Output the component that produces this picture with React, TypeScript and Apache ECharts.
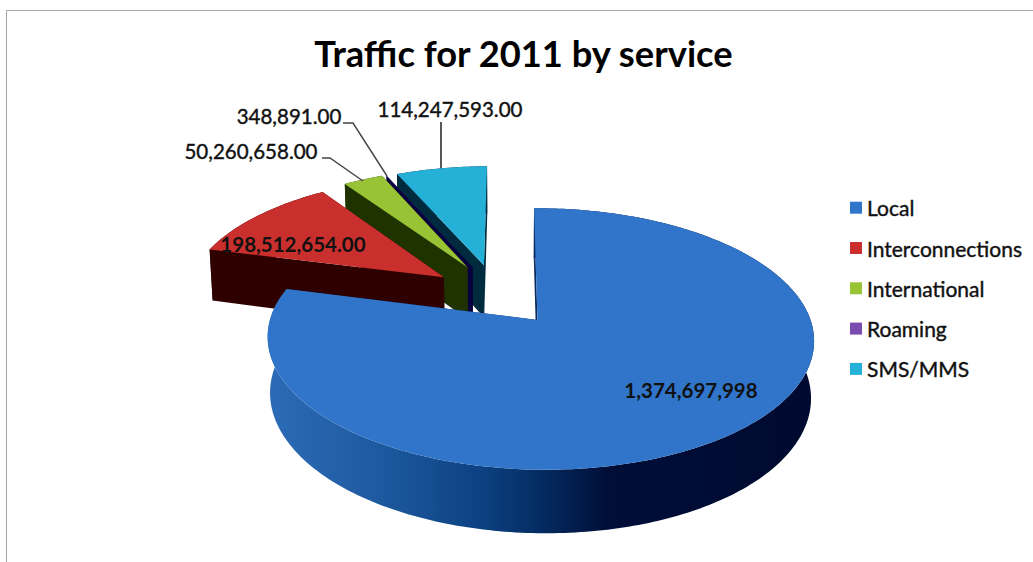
import React, { useEffect, useRef } from "react";
import * as echarts from "echarts";

// Traffic by service, in the order of the pie, clockwise from twelve o'clock.
const categories = ["Local", "Interconnections", "International", "Roaming", "SMS/MMS"];
const trafficValues = [1374697998, 198512654, 50260658, 348891, 114247593];
const valueLabels = ["1,374,697,998", "198,512,654.00", "50,260,658.00", "348,891.00", "114,247,593.00"];

const topColors = ["#3075C9", "#C92F2C", "#98C335", "#7A4CB0", "#25B0D8"];
const wallColors = ["#0A2A60", "#2E0000", "#1F3300", "#08003C", "#002A3E"];

// Slice displacement on the pie's plane, in units of the radius.
const explodeOffsets: number[][] = [[0, 0], [-0.36, -0.353], [-0.27, -0.44], [-0.25, -0.44], [-0.205, -0.458]];

// Label centres, and the bent leader that joins a label to its slice.
const labelCentres: number[][] = [[691, 390], [293, 244], [251, 151], [289, 116], [450, 109]];
const leaderPaths: (number[][] | null)[] = [
  null,
  null,
  [[322, 158], [330, 158], [363, 181]],
  [[343, 123], [353, 123], [387, 176]],
  [[441, 122], [441, 168]],
];

// Perspective of the tilted disc: lines of constant u converge on VANISH_X.
const VANISH_X = 510;
const APEX_DX = 27.5;
const APEX_Y = 320;
const RADIUS_X = 270;
const RADIUS_Y = 128;
const TILT_V = 0.145;
const TILT_U = 0.01;
const DEPTH = 55.6;
const FLOOR_SCALE = 0.99;
const LABEL_FONT = "Lato";

const total = trafficValues.reduce((a, b) => a + b, 0);

function project(u: number, v: number, floor: boolean): number[] {
  const w = 1 - TILT_V * v - TILT_U * u;
  const k = floor ? FLOOR_SCALE : 1;
  return [
    VANISH_X + ((APEX_DX + RADIUS_X * u) * k) / w,
    APEX_Y + (RADIUS_Y * v * k) / w + (floor ? DEPTH / w : 0),
  ];
}

function sliceAngles(index: number): number[] {
  let before = 0;
  for (let i = 0; i < index; i++) before += trafficValues[i];
  const start = (before / total) * 2 * Math.PI;
  return [start, start + (trafficValues[index] / total) * 2 * Math.PI];
}

function wallFill(index: number) {
  if (index !== 0) return wallColors[index];
  return new echarts.graphic.LinearGradient(0, 0, 1, 0, [
    { offset: 0, color: "#2C6BB6" },
    { offset: 0.2, color: "#1E5AA0" },
    { offset: 0.38, color: "#0D4384" },
    { offset: 0.5, color: "#042C62" },
    { offset: 0.62, color: "#000E38" },
    { offset: 1, color: "#000A30" },
  ]);
}

function renderSlice(index: number) {
  const [start, end] = sliceAngles(index);
  const [du, dv] = explodeOffsets[index];
  const rim = (a: number, floor: boolean) => project(du + Math.sin(a), dv - Math.cos(a), floor);
  const apexTop = project(du, dv, false);
  const apexFloor = project(du, dv, true);

  const steps = Math.max(2, Math.ceil(((end - start) * 180) / Math.PI));
  const topArc: number[][] = [];
  const floorArc: number[][] = [];
  for (let i = 0; i <= steps; i++) {
    const a = start + ((end - start) * i) / steps;
    topArc.push(rim(a, false));
    floorArc.push(rim(a, true));
  }

  const children: any[] = [
    {
      type: "polygon",
      shape: { points: [...topArc, ...[...floorArc].reverse()] },
      style: { fill: wallFill(index) },
    },
    {
      type: "polygon",
      shape: { points: [apexTop, topArc[0], floorArc[0], apexFloor] },
      style: { fill: wallColors[index] },
    },
    {
      type: "polygon",
      shape: { points: [apexTop, topArc[steps], floorArc[steps], apexFloor] },
      style: { fill: wallColors[index] },
    },
    {
      type: "polygon",
      shape: { points: [apexTop, ...topArc] },
      style: { fill: topColors[index] },
    },
  ];

  const leader = leaderPaths[index];
  if (leader) {
    children.push({
      type: "polyline",
      shape: { points: leader },
      style: { fill: "none", stroke: index === 4 ? "#111111" : "#444444", lineWidth: 1.4 },
      z2: 90,
    });
  }
  children.push({
    type: "text",
    z2: 100,
    style: {
      text: valueLabels[index],
      x: labelCentres[index][0],
      y: labelCentres[index][1],
      align: "center",
      verticalAlign: "middle",
      fill: "#111111",
      stroke: "#111111",
      lineWidth: index < 2 ? 0 : 0.4,
      font: `${index < 2 ? "bold " : ""}20.5px ${LABEL_FONT}`,
    },
  });
  return { type: "group", children };
}

// Back-to-front painting order: the large slice overlaps the exploded ones.
const paintOrder = [4, 3, 2, 1, 0];

export default function App() {
  const ref = useRef<HTMLDivElement>(null);
  useEffect(() => {
    document.body.style.margin = "0";
    const chart = echarts.init(ref.current!, undefined, { renderer: "svg" });
    chart.setOption({
      animation: false,
      backgroundColor: "#ffffff",
      title: {
        text: "Traffic for 2011 by service",
        left: 518.5,
        top: 30,
        textAlign: "center",
        textStyle: { fontFamily: LABEL_FONT, fontWeight: "bold", fontSize: 36.3, color: "#000000" },
      },
      legend: {
        data: categories,
        orient: "vertical",
        left: 850,
        top: 197,
        padding: 0,
        itemWidth: 12,
        itemHeight: 12,
        itemGap: 18.9,
        icon: "rect",
        selectedMode: false,
        textStyle: { fontFamily: LABEL_FONT, fontSize: 21, color: "#111111", textBorderColor: "#111111", textBorderWidth: 0.4 },
      },
      graphic: [
        {
          type: "rect",
          shape: { x: 6.5, y: 10.5, width: 1060, height: 600 },
          style: { fill: "none", stroke: "#A6A6A6", lineWidth: 1 },
          silent: true,
        },
      ],
      series: paintOrder.map((index) => ({
        type: "custom",
        name: categories[index],
        coordinateSystem: "none",
        silent: true,
        itemStyle: { color: topColors[index] },
        data: [trafficValues[index]],
        renderItem: () => renderSlice(index),
      })),
    });
    return () => chart.dispose();
  }, []);
  return <div ref={ref} style={{ width: 1033, height: 562, overflow: "hidden" }} />;
}
